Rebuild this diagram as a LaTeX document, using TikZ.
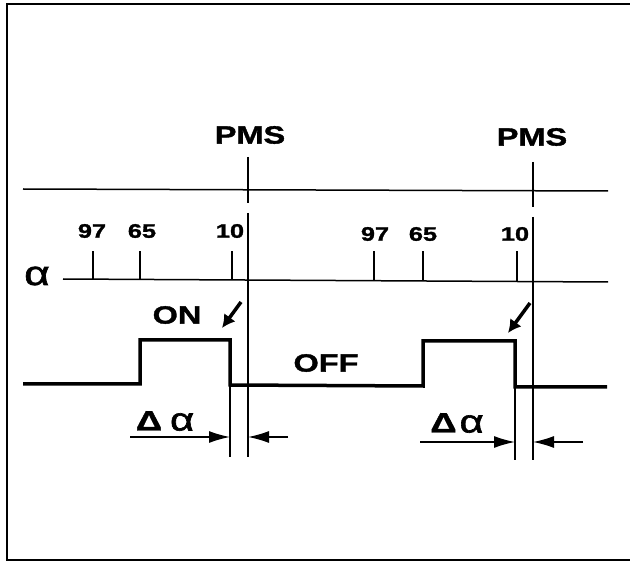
\documentclass[tikz,border=0pt]{standalone}
\usepackage{fontspec}
\setmainfont{Liberation Sans}
\newfontfamily\labfont[FakeStretch=1.3, BoldFeatures={FakeBold=1.5}]{Liberation Sans}
\newfontfamily\alfont[FakeStretch=1.3, FakeBold=2]{Liberation Sans}
\usetikzlibrary{arrows.meta}
\tikzset{
  lab/.style={font=\labfont\bfseries\fontsize{25}{25}\selectfont, inner sep=0pt},
  num/.style={font=\labfont\bfseries\fontsize{19.5}{19.5}\selectfont, inner sep=0pt},
  alf/.style={font=\alfont\fontsize{34}{34}\selectfont, inner sep=0pt},
  thinline/.style={line width=1.5pt},
  sig/.style={line width=3.5pt, line join=miter},
  dimarrow/.style={line width=1.5pt, -{Latex[length=21pt,width=12pt]}},
  hint/.style={line width=3.5pt, -{Latex[length=13pt,width=14pt]}},
  frame/.style={line width=2.5pt}
}
\begin{document}
\begin{tikzpicture}[x=1pt,y=-1pt]
\useasboundingbox (0,0) rectangle (630,564);
% frame
\coordinate (fTR) at (632,4);
\coordinate (fTL) at (7,4);
\coordinate (fBL) at (7,560);
\coordinate (fBR) at (632,560);
\draw[frame] (fTR) -- (fTL) -- (fBL) -- (fBR);
% horizontal lines
\coordinate (topL) at (23,189);
\coordinate (topR) at (608,191);
\draw[thinline] (topL) -- (topR);
\node[alf] (alpha) at (37,276) {α};
\coordinate (axL) at (63,279);
\coordinate (axR) at (608,282);
\draw[thinline] (axL) -- (axR);
% ticks
\foreach \n/\x/\y in {a/93/279, b/140/279, c/232/280, d/374/281, e/423/281, f/517/282}{
  \coordinate (t\n) at (\x,\y);
  \coordinate (u\n) at (\x,251);
  \draw[thinline] (t\n) -- (u\n);
}
\node[num] (n97a) at (92,231) {97};
\node[num] (n65a) at (142,231) {65};
\node[num] (n10a) at (230,231) {10};
\node[num] (n97b) at (375,234) {97};
\node[num] (n65b) at (423,234) {65};
\node[num] (n10b) at (515,234) {10};
% PMS
\node[lab] (pms1) at (250,135) {PMS};
\node[lab] (pms2) at (532,137) {PMS};
\coordinate (p1a) at (248,157);
\coordinate (p1b) at (248,203);
\coordinate (p1c) at (248,213);
\coordinate (p1d) at (248,457);
\draw[thinline] (p1a) -- (p1b);
\draw[thinline] (p1c) -- (p1d);
\coordinate (p2a) at (533,162);
\coordinate (p2b) at (533,207);
\coordinate (p2c) at (533,217);
\coordinate (p2d) at (533,460);
\draw[thinline] (p2a) -- (p2b);
\draw[thinline] (p2c) -- (p2d);
% signal
\coordinate (s0) at (23,384);
\coordinate (s1) at (140,384);
\coordinate (s2) at (140,340);
\coordinate (s3) at (230,340);
\coordinate (s4) at (230,385);
\coordinate (s5) at (423,386);
\coordinate (s6) at (423,341);
\coordinate (s7) at (515,341);
\coordinate (s8) at (515,387);
\coordinate (s9) at (607,387);
\draw[sig] (s0) -- (s1) -- (s2) -- (s3) -- (s4) -- (s5) -- (s6) -- (s7) -- (s8) -- (s9);
\node[lab] (on) at (177,315) {ON};
\node[lab] (off) at (326,363) {OFF};
% hint arrows
\coordinate (h1a) at (241,302);
\coordinate (h1b) at (222,328);
\draw[hint] (h1a) -- (h1b);
\coordinate (h2a) at (530,303);
\coordinate (h2b) at (508,333);
\draw[hint] (h2a) -- (h2b);
% extension lines
\coordinate (e1) at (230,457);
\coordinate (e2) at (515,460);
\draw[thinline] (s4) -- (e1);
\draw[thinline] (s8) -- (e2);
% delta alpha
\node[inner sep=0pt] (da1) at (165,421) {\labfont\bfseries\fontsize{28}{28}\selectfont Δ\hspace{8pt}\alfont\mdseries\fontsize{32}{32}\selectfont α};
\node[inner sep=0pt] (da2) at (457,423) {\labfont\bfseries\fontsize{28}{28}\selectfont Δ\hspace{3pt}\alfont\mdseries\fontsize{32}{32}\selectfont α};
\coordinate (d1a) at (130,437);
\coordinate (d1b) at (230,437);
\coordinate (d1c) at (288,437);
\coordinate (d1d) at (248,437);
\draw[dimarrow] (d1a) -- (d1b);
\draw[dimarrow] (d1c) -- (d1d);
\coordinate (d2a) at (420,442);
\coordinate (d2b) at (515,442);
\coordinate (d2c) at (583,442);
\coordinate (d2d) at (533,442);
\draw[dimarrow] (d2a) -- (d2b);
\draw[dimarrow] (d2c) -- (d2d);
\end{tikzpicture}
\end{document}
